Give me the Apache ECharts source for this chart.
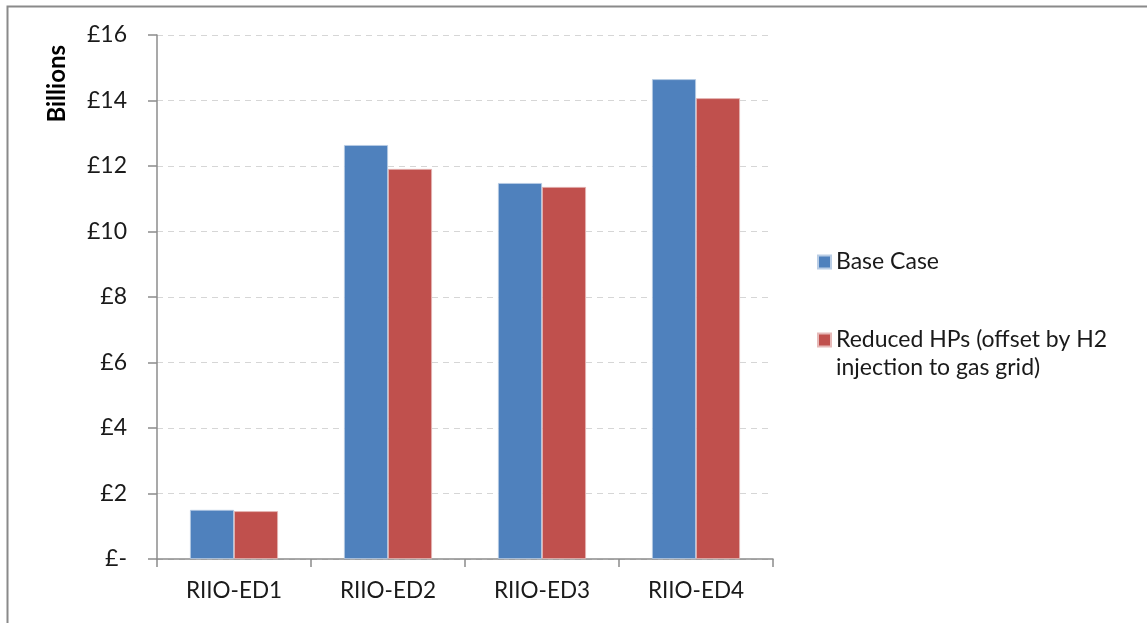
<!DOCTYPE html>
<html>
<head>
<meta charset="utf-8">
<script src="https://cdn.jsdelivr.net/npm/echarts@6/dist/echarts.min.js"></script>
<style>
html,body{margin:0;padding:0;background:#fff;}
#c{width:1147px;height:623px;}
</style>
</head>
<body>
<div id="c"></div>
<script>
const categories = ['RIIO-ED1', 'RIIO-ED2', 'RIIO-ED3', 'RIIO-ED4'];
const baseCase = [1.50, 12.64, 11.48, 14.65];
const reducedHPs = [1.46, 11.91, 11.36, 14.07];
const seriesNames = ['Base Case', 'Reduced HPs (offset by H2 injection to gas grid)'];
const legendLabels = ['Base Case', '\nReduced HPs (offset by H2\ninjection to gas grid)'];
const yTicks = [0, 2, 4, 6, 8, 10, 12, 14, 16];

const FONT = 'Lato';
const chart = echarts.init(document.getElementById('c'));
chart.setOption({
  backgroundColor: '#fff',
  animation: false,
  textStyle: { fontFamily: FONT },
  grid: { left: 157, right: 374, top: 35, bottom: 64, containLabel: false },
  legend: {
    orient: 'vertical',
    left: 812,
    top: 243,
    itemWidth: 13,
    itemHeight: 13,
    itemGap: 22,
    icon: 'rect',
    textStyle: { fontSize: 23, color: '#1a1a1a', fontFamily: FONT, lineHeight: 28 },
    formatter: function (name) { return legendLabels[seriesNames.indexOf(name)]; },
    data: seriesNames
  },
  xAxis: {
    type: 'category',
    data: categories,
    axisLine: { lineStyle: { color: '#8c8c8c', width: 1.5 } },
    axisTick: { show: true, length: 8, alignWithLabel: false, lineStyle: { color: '#8c8c8c', width: 1.5 } },
    axisLabel: { fontSize: 22.5, color: '#1a1a1a', margin: 20, fontFamily: FONT }
  },
  yAxis: {
    type: 'value',
    min: 0,
    max: 16,
    interval: 2,
    axisLine: { show: true, lineStyle: { color: '#8c8c8c', width: 1.5 } },
    axisTick: { show: true, inside: false, length: 9, lineStyle: { color: '#8c8c8c', width: 1.5 } },
    splitLine: { show: true, lineStyle: { color: '#d6d6d6', type: [6, 5], width: 1 } },
    axisLabel: {
      fontSize: 23, color: '#1a1a1a', margin: 30, fontFamily: FONT,
      formatter: function (v) { return yTicks.indexOf(v) === 0 ? '£-' : '£' + v; }
    }
  },
  series: [
    {
      name: seriesNames[0], type: 'bar', data: baseCase,
      barWidth: 44, barGap: '0%',
      itemStyle: { color: '#4F81BD', borderColor: '#b9cde5', borderWidth: 0.8 }
    },
    {
      name: seriesNames[1], type: 'bar', data: reducedHPs,
      barWidth: 44, barGap: '0%',
      itemStyle: { color: '#C0504D', borderColor: '#e6b9b8', borderWidth: 0.8 }
    }
  ],
  graphic: [
    { type: 'rect', left: 5, top: 4, shape: { width: 1300, height: 700 },
      style: { fill: 'none', stroke: '#8a8a8a', lineWidth: 2 }, silent: true, z: -1 },
    { type: 'text', left: 45, top: 45, rotation: Math.PI / 2,
      style: { text: 'Billions', fontSize: 24, fontWeight: 'bold', fontFamily: FONT, fill: '#000' } }
  ]
});
</script>
</body>
</html>
